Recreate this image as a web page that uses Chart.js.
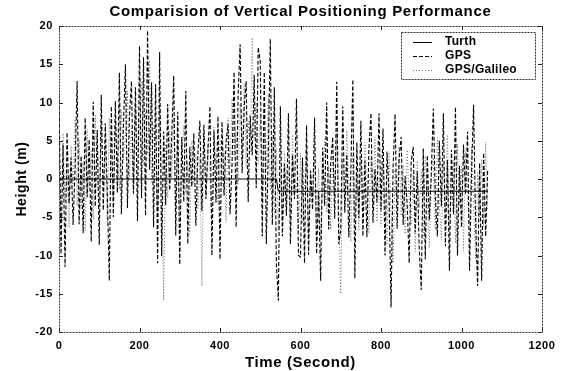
<!DOCTYPE html>
<html><head><meta charset="utf-8">
<script src="https://cdn.jsdelivr.net/npm/chart.js@4.4.1/dist/chart.umd.min.js"></script>
<style>html,body{margin:0;padding:0;background:#fff;}canvas{display:block;}</style>
</head><body>
<canvas id="c" width="569" height="371" style="width:569px;height:371px"></canvas>
<script>
const chartTitle = 'Comparision of Vertical Positioning Performance';
const xAxisTitle = 'Time (Second)';
const yAxisTitle = 'Height (m)';
const xTickValues = [0, 200, 400, 600, 800, 1000, 1200];
const yTickValues = [-20, -15, -10, -5, 0, 5, 10, 15, 20];
const seriesNames = ['Turth', 'GPS', 'GPS/Galileo'];

// sample times (s), one sample every 5 seconds, 0 .. 1065
const sampleTimes = Array.from({length: 214}, (_, i) => i * 5);

const truthTimes = [0, 540, 545, 1065];
const truthHeight = [0, 0, -1.6, -1.6];

const gpsHeight = [
  11.2, -9.8, 4.5, -11.5, 6.1, -3.2, 2.8, -6.0, 1.5, 12.8,
  -5.9, 3.0, -7.1, 8.0, -2.4, 5.2, -8.2, 10.1, -3.6, 6.4,
  -8.6, 11.0, -4.1, 7.3, -2.0, -13.3, 9.5, -5.0, 10.2, -1.8,
  13.9, -4.6, 6.8, 15.0, -3.8, 8.2, 12.8, -1.9, 12.0, -5.5,
  17.4, -2.5, 15.9, -4.8, 19.4, 1.2, 12.6, -6.3, 12.4, -11.0,
  16.6, -10.1, 6.2, -3.4, 9.8, -1.5, 5.4, 13.5, -7.4, 8.8,
  -11.2, 5.5, -3.0, 11.5, -8.5, 4.2, -1.0, 6.0, -6.1, 3.3,
  7.6, -4.2, 7.1, -2.6, 3.8, 9.5, -10.0, 6.3, -3.1, 8.2,
  -10.5, 7.5, -2.2, 4.9, 7.2, -4.6, 2.0, 14.0, -6.3, 11.1,
  17.6, 0.8, 9.4, 12.8, -3.0, 8.3, 3.1, 13.6, -1.2, 17.2,
  15.4, -7.5, 14.0, -8.5, 3.5, 18.3, -6.0, 12.0, -11.0, -15.9,
  9.5, -7.5, 2.0, -4.8, 8.6, -8.5, 3.2, -2.6, 10.5, -10.0,
  -10.2, 2.8, -11.0, 7.0, -9.9, 1.1, -4.0, 8.0, -9.8, -1.6,
  -13.3, 4.1, -3.5, 10.0, -6.6, 2.0, 5.5, -5.2, 12.7, -8.5,
  -6.8, 9.5, -4.4, 3.2, -7.6, 1.0, 13.0, -13.0, 4.8, -5.1,
  7.6, -7.5, 2.4, -7.6, 4.0, 8.6, -5.7, 1.3, -3.0, 8.6,
  -4.1, 6.6, -10.0, 3.6, -2.2, -16.8, 1.5, 8.5, -6.5, 2.7,
  5.5, -6.0, 0.4, -3.2, -11.0, 2.2, 4.2, -7.0, 1.0, -9.2,
  -14.5, 4.0, -10.5, 3.1, -5.4, 0.8, 9.2, -2.4, -7.5, 5.0,
  -3.6, 8.6, -8.8, 2.5, -12.0, 3.8, -4.6, 9.4, -10.0, 1.7,
  -6.3, 4.5, -2.0, 6.2, -12.0, 1.0, 9.7, -5.5, -14.0, 2.1,
  -13.3, 3.4, -7.5, 1.2
];

const galileoHeight = [
  3.5, -5.2, 6.0, -2.8, 1.2, -6.4, 4.4, -1.0, 7.8, -3.5,
  5.1, -4.0, 2.2, -6.8, 6.5, -1.6, 3.8, -5.3, 8.4, 0.6,
  -3.2, 6.6, -0.5, 4.1, -6.0, 8.0, 1.4, -2.6, 7.2, 3.0,
  -1.4, 9.0, 2.5, 5.6, 11.5, 0.2, 6.8, -2.0, 10.4, 3.6,
  6.0, 13.0, 1.8, 8.8, 3.3, 15.5, -0.4, 7.0, 2.6, -4.3,
  9.4, 0.5, -15.9, 4.6, -2.5, 6.4, 0.0, 8.1, -3.8, 4.7,
  -5.4, 3.6, 7.0, -1.8, 2.3, -7.2, 5.0, -0.6, 3.2, -4.0,
  2.8, -14.0, 5.6, -2.1, 4.5, 0.6, -6.5, 6.8, 1.0, -3.3,
  5.3, -1.0, 3.6, -5.6, 8.0, 1.7, 10.5, 3.0, 6.2, -0.8,
  9.8, 4.0, 12.5, 1.5, 7.6, 3.5, 18.5, 5.2, 10.0, 2.0,
  8.3, -2.6, 6.0, 1.1, 11.0, -1.5, 5.8, -4.7, 4.0, -6.8,
  0.5, -5.5, 3.6, -3.4, 1.0, -6.3, 5.8, -2.2, -0.4, -7.0,
  3.4, -5.8, -1.3, 4.6, -7.4, 0.8, -3.0, 2.6, -6.0, 1.4,
  -7.8, 0.0, 5.2, -4.4, 1.8, -6.6, 3.1, -2.0, 6.0, -4.0,
  -15.0, 2.4, -3.6, 6.3, -1.2, -8.2, 3.4, -5.8, 0.6, -6.8,
  2.8, -4.2, 4.8, -1.0, -7.1, 3.0, -3.4, 5.5, -5.6, 0.3,
  -6.2, 2.1, -2.8, -8.8, 3.5, -4.6, -11.0, 1.2, -2.8, 4.2,
  -4.8, 1.8, -7.2, 3.8, -2.5, -6.0, 0.8, -9.5, 2.4, -3.8,
  1.2, -7.8, 3.0, -2.2, -9.0, 0.4, 2.8, -6.6, 5.4, -3.2,
  -8.0, 2.0, -4.3, 5.8, -6.6, -1.5, 2.4, -8.4, 4.6, -3.6,
  1.8, -9.4, 3.6, -2.8, -6.0, 4.2, -3.3, -10.5, 0.8, -5.0,
  2.6, -6.2, 4.8, -4.0
];

const FONT = "'Liberation Sans', Arial, Helvetica, sans-serif";
const pts = (xs, ys) => xs.map((x, i) => ({x: x, y: ys[i]}));

const spacing = {
  id: 'spacing',
  beforeLayout(chart) { chart.ctx.letterSpacing = '0.6px'; },
  beforeDraw(chart) { chart.ctx.letterSpacing = '0.6px'; }
};

const frameAndLegend = {
  id: 'frameAndLegend',
  afterDatasetsDraw(chart) {
    const {ctx, chartArea: a, scales} = chart;
    ctx.save();
    ctx.strokeStyle = '#222';
    ctx.lineWidth = 1;
    ctx.setLineDash([]);
    const tl = 4;
    xTickValues.forEach(v => {
      const x = Math.round(scales.x.getPixelForValue(v)) + 0.5;
      ctx.beginPath();
      ctx.moveTo(x, a.bottom); ctx.lineTo(x, a.bottom - tl);
      ctx.moveTo(x, a.top); ctx.lineTo(x, a.top + tl);
      ctx.stroke();
    });
    yTickValues.forEach(v => {
      const y = Math.round(scales.y.getPixelForValue(v)) + 0.5;
      ctx.beginPath();
      ctx.moveTo(a.left, y); ctx.lineTo(a.left + tl, y);
      ctx.moveTo(a.right, y); ctx.lineTo(a.right - tl, y);
      ctx.stroke();
    });
    ctx.strokeStyle = '#333';
    ctx.setLineDash([2, 1]);
    ctx.strokeRect(Math.round(a.left) + 0.5, Math.round(a.top) + 0.5,
                   Math.round(a.right - a.left), Math.round(a.bottom - a.top));
    // legend
    const bx = 401, by = 32, bw = 134, bh = 47;
    ctx.setLineDash([]);
    ctx.fillStyle = '#fff';
    ctx.fillRect(bx, by, bw, bh);
    ctx.strokeStyle = '#333';
    ctx.setLineDash([2, 1]);
    ctx.strokeRect(bx + 0.5, by + 0.5, bw, bh);
    ctx.letterSpacing = '0.3px';
    ctx.font = 'bold 12px ' + FONT;
    ctx.textBaseline = 'middle';
    ctx.textAlign = 'left';
    chart.data.datasets.forEach((ds, i) => {
      const y = by + 9.5 + i * 14;
      ctx.strokeStyle = ds.borderColor;
      ctx.lineWidth = 1;
      ctx.setLineDash(ds.borderDash || []);
      ctx.beginPath();
      ctx.moveTo(413, Math.round(y) + 0.5); ctx.lineTo(432, Math.round(y) + 0.5);
      ctx.stroke();
      ctx.fillStyle = '#000';
      ctx.fillText(ds.label, 445, y);
    });
    // title centred over the plot box
    ctx.letterSpacing = '0.7px';
    ctx.font = 'bold 15px ' + FONT;
    ctx.textAlign = 'center';
    ctx.fillText(chartTitle, (a.left + a.right) / 2, 12);
    ctx.restore();
  }
};

new Chart(document.getElementById('c'), {
  type: 'line',
  data: {
    datasets: [
      {label: seriesNames[0], data: pts(truthTimes, truthHeight), borderColor: '#000', borderWidth: 1, borderDash: [], pointRadius: 0, tension: 0},
      {label: seriesNames[1], data: pts(sampleTimes, gpsHeight), borderColor: '#000', borderWidth: 1.1, borderDash: [4, 2], pointRadius: 0, tension: 0},
      {label: seriesNames[2], data: pts(sampleTimes, galileoHeight), borderColor: '#777', borderWidth: 1, borderDash: [1, 2], pointRadius: 0, tension: 0}
    ]
  },
  options: {
    responsive: false,
    animation: false,
    events: [],
    layout: {padding: {left: 0, right: 27, top: 26, bottom: 0}},
    plugins: {
      legend: {display: false},
      tooltip: {enabled: false},
      title: {display: false}
    },
    scales: {
      x: {
        type: 'linear', min: 0, max: 1200,
        afterBuildTicks: s => { s.ticks = xTickValues.map(v => ({value: v})); },
        afterFit: s => { s.height = 39; },
        grid: {display: false, drawTicks: false}, border: {display: false},
        ticks: {color: '#000', padding: 7, maxRotation: 0, callback: v => String(v),
          font: {family: FONT, size: 11, weight: 'bold'}},
        title: {display: true, text: xAxisTitle, color: '#000', padding: {top: 0, bottom: 1},
          font: {family: FONT, size: 15, weight: 'bold', lineHeight: 1}}
      },
      y: {
        type: 'linear', min: -20, max: 20,
        afterBuildTicks: s => { s.ticks = yTickValues.map(v => ({value: v})); },
        afterFit: s => { s.width = 59; },
        grid: {display: false, drawTicks: false}, border: {display: false},
        ticks: {color: '#000', padding: 6, callback: v => String(v),
          font: {family: FONT, size: 11, weight: 'bold'}},
        title: {display: true, text: yAxisTitle, color: '#000', padding: {top: 15, bottom: 0},
          font: {family: FONT, size: 14, weight: 'bold', lineHeight: 1}}
      }
    }
  },
  plugins: [spacing, frameAndLegend]
});
</script>
</body></html>
